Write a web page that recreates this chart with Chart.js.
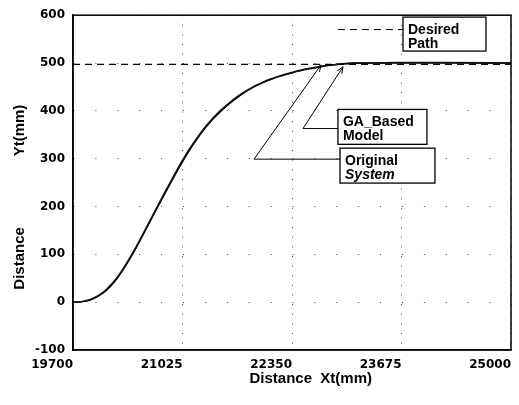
<!DOCTYPE html>
<html>
<head>
<meta charset="utf-8">
<script src="https://cdn.jsdelivr.net/npm/chart.js@4/dist/chart.umd.min.js"></script>
<style>
body { margin: 0; background: #fff; }
canvas { display: block; }
</style>
</head>
<body>
<canvas id="myChart" width="519" height="405"></canvas>
<script>
// values (mm)
var xt_points = [19700, 19800, 19900, 20000, 20100, 20200, 20300, 20400, 20500, 20600,
    20700, 20800, 20900, 21000, 21100, 21200, 21300, 21400, 21500, 21600,
    21700, 21800, 21900, 22000, 22100, 22200, 22300, 22400, 22500, 22600,
    22700, 22800, 22900, 23000, 23100, 23300, 23600, 24200, 25000];
var original_yt = [0, 1, 5, 13, 26, 44, 68, 96, 127, 160,
    193, 226, 258, 289, 318, 343, 366, 386, 403, 418,
    431, 442, 452, 460, 467, 473, 478, 483, 487, 490,
    493, 495.5, 497.5, 499, 500, 500, 501, 501, 500];
var ga_yt = [0, 1, 4, 12, 24, 42, 66, 94, 125, 158,
    191, 223, 255, 286, 315, 341, 364, 384, 401, 416,
    429, 441, 451, 459, 466, 472, 477, 482, 486, 489,
    492, 495, 497, 498.5, 499.5, 500, 500, 500, 500];
var desired_x = [19700, 25000];
var desired_yt = [497, 497];

var x_ticks = [19700, 21025, 22350, 23675, 25000];
var y_ticks = [-100, 0, 100, 200, 300, 400, 500, 600];

var note_desired = ['Desired', 'Path'];
var note_ga = ['GA_Based', 'Model'];
var note_original = ['Original', 'System'];

function toPoints(xs, ys) {
    return xs.map(function (x, i) { return { x: x, y: ys[i] }; });
}

// 박스와 화살표 그리기
function arrowHead(ctx, fx, fy, tx, ty) {
    var ang = Math.atan2(ty - fy, tx - fx);
    var len = 7;
    ctx.beginPath();
    ctx.moveTo(tx - len * Math.cos(ang - 0.4), ty - len * Math.sin(ang - 0.4));
    ctx.lineTo(tx, ty);
    ctx.lineTo(tx - len * Math.cos(ang + 0.4), ty - len * Math.sin(ang + 0.4));
    ctx.stroke();
}

function noteBox(ctx, x1, y1, x2, y2, lines, italicLast) {
    ctx.fillStyle = '#fff';
    ctx.fillRect(x1, y1, x2 - x1, y2 - y1);
    ctx.strokeStyle = '#000';
    ctx.lineWidth = 1.3;
    ctx.strokeRect(x1, y1, x2 - x1, y2 - y1);
    ctx.fillStyle = '#000';
    ctx.textAlign = 'left';
    ctx.textBaseline = 'alphabetic';
    for (var i = 0; i < lines.length; i++) {
        var it = (italicLast && i == lines.length - 1) ? 'italic ' : '';
        ctx.font = it + 'bold 14px "Liberation Sans", Arial, sans-serif';
        ctx.fillText(lines[i], x1 + 5, y1 + 16.5 + i * 14);
    }
}

const notesPlugin = {
    id: 'notes',
    afterDatasetsDraw(chart) {
        const ctx = chart.ctx;
        const a = chart.chartArea;
        const px = v => chart.scales.x.getPixelForValue(v);
        const py = v => chart.scales.y.getPixelForValue(v);
        ctx.save();
        // frame round the plot
        ctx.strokeStyle = '#000';
        ctx.lineWidth = 1.5;
        ctx.strokeRect(a.left, a.top, a.right - a.left, a.bottom - a.top);

        ctx.lineWidth = 1;
        // Desired Path leader
        ctx.setLineDash([7, 5]);
        ctx.beginPath();
        ctx.moveTo(px(22906), py(570));
        ctx.lineTo(px(23693), py(570));
        ctx.stroke();
        ctx.setLineDash([]);

        // GA_Based Model arrow
        ctx.beginPath();
        ctx.moveTo(px(22906), py(363));
        ctx.lineTo(px(22483), py(363));
        ctx.lineTo(px(22967), py(492));
        ctx.stroke();
        arrowHead(ctx, px(22483), py(363), px(22967), py(492));

        // Original System arrow
        ctx.beginPath();
        ctx.moveTo(px(22931), py(299));
        ctx.lineTo(px(21890), py(299));
        ctx.lineTo(px(22701), py(496));
        ctx.stroke();
        arrowHead(ctx, px(21890), py(299), px(22701), py(496));

        noteBox(ctx, px(23693), py(596), px(24697), py(525), note_desired, false);
        noteBox(ctx, px(22906), py(403), px(23983), py(330), note_ga, false);
        noteBox(ctx, px(22931), py(322), px(24080), py(249), note_original, true);
        ctx.restore();
    }
};

var ctx = document.getElementById('myChart').getContext('2d');
var myChart = new Chart(ctx, {
    type: 'line',
    data: {
        datasets: [{
            label: 'Desired Path',
            data: toPoints(desired_x, desired_yt),
            borderColor: '#000',
            borderWidth: 1.3,
            borderDash: [7, 5],
            pointRadius: 0
        }, {
            label: 'Original System',
            data: toPoints(xt_points, original_yt),
            borderColor: '#111',
            borderWidth: 1.6,
            cubicInterpolationMode: 'monotone',
            pointRadius: 0
        }, {
            label: 'GA_Based Model',
            data: toPoints(xt_points, ga_yt),
            borderColor: '#000',
            borderWidth: 1.4,
            cubicInterpolationMode: 'monotone',
            pointRadius: 0
        }]
    },
    options: {
        responsive: false,
        animation: false,
        devicePixelRatio: 1,
        layout: { padding: { top: 13, right: 8, bottom: 0, left: 0 } },
        plugins: {
            legend: { display: false },
            tooltip: { enabled: false }
        },
        scales: {
            x: {
                type: 'linear',
                min: 19700,
                max: 25000,
                afterBuildTicks: function (scale) {
                    scale.ticks = x_ticks.map(function (v) { return { value: v }; });
                },
                afterFit: function (scale) { scale.height = 55; },
                ticks: {
                    align: 'end',
                    padding: 8,
                    color: '#000',
                    font: { family: '"DejaVu Sans", sans-serif', size: 12, weight: 'bold' },
                    callback: function (v) { return String(v); }
                },
                grid: { color: '#444', lineWidth: 1, drawTicks: false },
                border: { display: true, color: '#000', width: 1.5, dash: [1, 8.63] },
                title: {
                    display: true,
                    text: '         Distance  Xt(mm)',
                    color: '#000',
                    font: { family: '"Liberation Sans", Arial, sans-serif', size: 15, weight: 'bold' },
                    padding: { top: 0, bottom: 17 }
                }
            },
            y: {
                type: 'linear',
                min: -100,
                max: 600,
                afterBuildTicks: function (scale) {
                    scale.ticks = y_ticks.map(function (v) { return { value: v }; });
                },
                afterFit: function (scale) { scale.width = 73; },
                ticks: {
                    padding: 8,
                    color: '#000',
                    font: { family: '"DejaVu Sans", sans-serif', size: 12, weight: 'bold' },
                    callback: function (v) { return String(v); }
                },
                grid: { color: '#444', lineWidth: 1, drawTicks: false },
                border: { display: true, color: '#000', width: 1.5, dash: [1, 20.9] },
                title: {
                    display: true,
                    text: 'Distance                 Yt(mm)       ',
                    color: '#000',
                    font: { family: '"Liberation Sans", Arial, sans-serif', size: 15, weight: 'bold' },
                    padding: { top: 11, bottom: 0 }
                }
            }
        }
    },
    plugins: [notesPlugin]
});
</script>
</body>
</html>
